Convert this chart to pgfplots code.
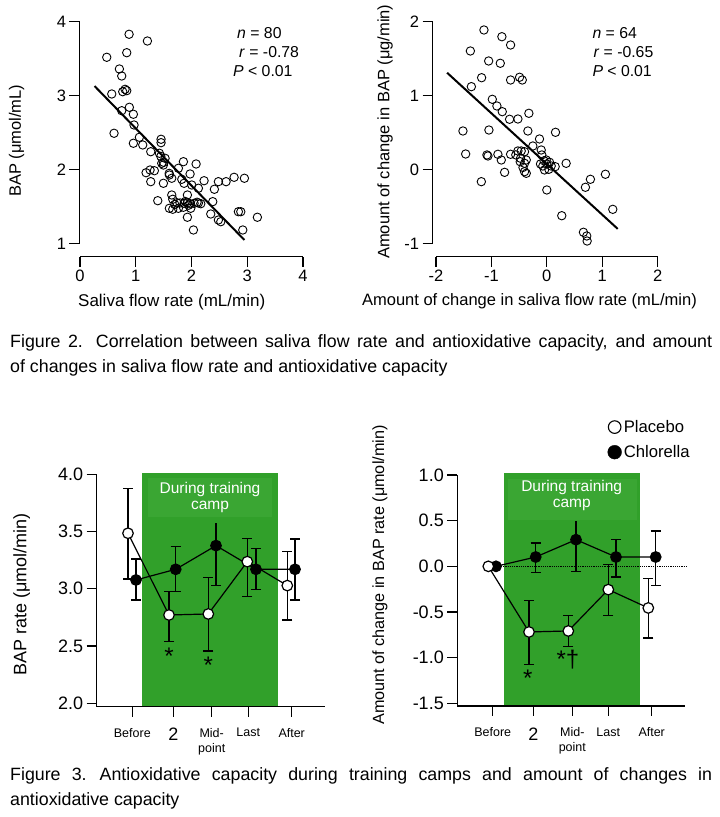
\documentclass[border=0pt]{standalone}
\usepackage{pgfplots}
\pgfplotsset{compat=1.18}
\usepackage{fontspec}
\setmainfont{Liberation Sans}
\definecolor{campgreen}{RGB}{49,160,42}
\definecolor{campgreenlt}{RGB}{58,166,51}
\newcommand{\fsz}[1]{\fontsize{#1pt}{#1pt}\selectfont}
\tikzset{axl/.style={line width=1.4pt}}
\pgfplotsset{
  common/.style={scale only axis, anchor=south west,
    axis x line*=bottom, axis y line*=left, axis line style={draw=none},
    tick align=outside, major tick length=10pt,
    tick style={black, line width=1.3pt}, clip=false,
    /pgf/number format/assume math mode=true,
    ticklabel style={font=\fsz{16.5}}},
  scat/.style={only marks, mark=o, mark size=4.2pt, mark options={line width=0.9pt}},
  regline/.style={no marks, line width=2pt},
  ebars/.style={error bars/y dir=both, error bars/y explicit,
    error bars/error bar style={line width=1.4pt},
    error bars/error mark options={rotate=90, mark size=5pt, line width=1.4pt}},
  placebo/.style={black, line width=1.2pt, mark=*, mark size=5.3pt,
    mark options={fill=white, line width=1.2pt}, ebars},
  chlor/.style={black, line width=1.2pt, mark=*, mark size=5.3pt,
    mark options={fill=black}, ebars},
}
\begin{document}
\begin{tikzpicture}
\useasboundingbox (0,0) rectangle (720pt,817pt);

% ---------------- Panel A ----------------
\begin{axis}[common, at={(79.5pt,560.3pt)}, width=223.4pt, height=235pt,
  xmin=-0.01, xmax=4, ymin=0.824, ymax=4, xtick={0,1,2,3,4}, ytick={1,2,3,4}]
\addplot[scat] table {
x y
0.479 3.519
0.880 3.830
1.209 3.739
0.838 3.581
0.706 3.361
0.748 3.266
0.808 3.086
0.838 3.068
0.766 3.054
0.569 3.023
0.885 2.843
0.748 2.797
0.957 2.749
0.610 2.492
0.969 2.604
1.065 2.438
1.454 2.411
1.454 2.365
0.957 2.357
1.125 2.334
1.269 2.243
1.424 2.222
1.526 2.154
1.466 2.086
1.496 2.063
1.185 1.959
1.257 1.996
1.334 1.986
1.269 1.838
1.496 1.816
1.603 1.928
1.646 1.884
1.765 2.019
1.855 2.108
2.083 2.077
1.975 1.942
1.826 1.870
1.867 1.816
2.005 1.793
2.124 1.749
2.226 1.851
2.411 1.735
2.483 1.838
2.621 1.838
2.765 1.897
2.950 1.884
1.395 1.581
1.646 1.658
1.664 1.600
1.736 1.554
1.795 1.550
1.867 1.545
1.927 1.550
1.975 1.540
2.047 1.545
2.124 1.550
2.167 1.540
1.927 1.658
1.603 1.478
1.664 1.465
1.765 1.478
1.855 1.492
1.987 1.478
2.382 1.568
2.346 1.401
1.927 1.357
2.483 1.320
2.526 1.297
2.842 1.432
2.885 1.432
2.035 1.185
2.921 1.185
3.183 1.357
1.890 1.570
1.950 1.520
2.100 1.560
1.700 1.530
1.500 2.100
1.450 2.180
1.600 1.950
};
\addplot[regline] coordinates {(0.26,3.13) (2.95,1.05)};
\draw[axl] (axis cs:-0.01,1) -- (axis cs:-0.01,4);
\draw[axl] (axis cs:0,0.824) -- (axis cs:4,0.824);
\end{axis}

% ---------------- Panel B ----------------
\begin{axis}[common, at={(432.7pt,560.3pt)}, width=224.9pt, height=235pt,
  xmin=-2.06, xmax=2, ymin=-1.176, ymax=2, xtick={-2,-1,0,1,2}, ytick={-1,0,1,2}]
\addplot[scat] table {
x y
-1.135 1.888
-0.811 1.797
-0.654 1.685
-1.380 1.604
-1.050 1.469
-0.840 1.438
-1.177 1.243
-0.654 1.212
-0.492 1.249
-0.443 1.212
-1.362 1.122
-0.984 0.951
-0.901 0.861
-0.804 0.784
-0.672 0.681
-0.522 0.685
-0.324 0.762
-1.514 0.523
-1.045 0.536
-0.342 0.523
0.157 0.505
-0.132 0.415
-0.252 0.320
-1.465 0.212
-1.081 0.199
-1.063 0.185
-0.883 0.208
-0.822 0.131
-0.654 0.208
-0.522 0.253
-0.462 0.253
-0.402 0.243
-0.474 0.154
-0.480 0.108
-0.402 0.086
-0.371 0.131
-0.402 -0.027
-0.371 -0.049
-0.101 0.266
-0.090 0.199
-0.114 0.077
-0.072 0.050
-0.011 0.131
0.000 0.077
-0.041 -0.004
0.036 0.005
0.079 0.050
0.151 0.041
0.349 0.086
-0.762 -0.036
-1.182 -0.162
0.000 -0.274
0.270 -0.622
0.697 -0.238
0.787 -0.130
1.058 -0.062
0.661 -0.846
0.721 -0.896
0.728 -0.964
1.191 -0.536
-0.050 0.120
-0.430 0.030
-0.560 0.200
0.050 0.100
};
\addplot[regline] coordinates {(-1.80,1.31) (1.28,-0.80)};
\draw[axl] (axis cs:-2.06,-1) -- (axis cs:-2.06,2);
\draw[axl] (axis cs:-2,-1.176) -- (axis cs:2,-1.176);
\end{axis}

% ---------------- Panel C ----------------
\begin{axis}[common, at={(96.7pt,110.3pt)}, width=228.3pt, height=234.7pt,
  xmin=96.7, xmax=325, ymin=1.97, ymax=4.02,
  ytick={2,2.5,3,3.5,4}, ticklabel style={font=\fsz{18}},
  yticklabel style={/pgf/number format/.cd, fixed, fixed zerofill, precision=1},
  xtick={132.3,173.3,211.7,248.3,291.7},
  xticklabels={Before,{\fsz{18}2},Mid-\\point,Last,After},
  xticklabel style={font=\fontsize{12.5pt}{15pt}\selectfont, align=center, anchor=north, yshift=-8pt}]
\addplot[fill=campgreen, draw=none] coordinates {(142.3,1.97) (142.3,4.014) (278.3,4.014) (278.3,1.97)};
\addplot[fill=campgreenlt, draw=none] coordinates {(148.3,3.631) (148.3,3.966) (271.7,3.966) (271.7,3.631)};
\addplot[black, line width=1.4pt, forget plot] coordinates {(216,3.377) (216,3.572)};
\addplot[chlor] table[y error plus=ep, y error minus=em] {
x y ep em
136 3.077 0.184 0.175
175.7 3.170 0.198 0.195
216 3.377 0 0.349
256 3.170 0.184 0.174
295 3.170 0.265 0.268
};
\addplot[placebo] table[y error plus=ep, y error minus=em] {
x y ep em
128 3.485 0.393 0.399
169 2.771 0.207 0.232
208.3 2.780 0.320 0.323
247.3 3.237 0.204 0.305
287.3 3.028 0.297 0.300
};
\draw[axl] (axis cs:96.7,4) -- (axis cs:96.7,1.97) -- (axis cs:325,1.97);
\end{axis}

% ---------------- Panel D ----------------
\begin{axis}[common, at={(457.3pt,111pt)}, width=227.7pt, height=233.7pt,
  xmin=457.3, xmax=685, ymin=-1.53, ymax=1.03,
  ytick={-1.5,-1,-0.5,0,0.5,1}, ticklabel style={font=\fsz{18}},
  yticklabel style={/pgf/number format/.cd, fixed, fixed zerofill, precision=1},
  xtick={492.7,533.3,572.3,608.3,651.7},
  xticklabels={Before,{\fsz{18}2},Mid-\\point,Last,After},
  xticklabel style={font=\fontsize{12.5pt}{15pt}\selectfont, align=center, anchor=north, yshift=-8pt},
  legend style={at={(axis description cs:0.659,1.232)}, anchor=north west,
    draw=none, fill=none, font=\fsz{16.7}, row sep=7.5pt, inner sep=0pt},
  legend cell align=left]
\addplot[fill=campgreen, draw=none, forget plot] coordinates {(504,-1.53) (504,1.022) (640,1.022) (640,-1.53)};
\addplot[fill=campgreenlt, draw=none, forget plot] coordinates {(508.3,0.51) (508.3,0.956) (636.7,0.956) (636.7,0.51)};
\addplot[black, densely dotted, line width=1.2pt, forget plot] coordinates {(490,0) (686.7,0)};
\addplot[black, line width=1.4pt, forget plot] coordinates {(576,0.292) (576,0.493)};
\addplot[chlor, forget plot] table[y error plus=ep, y error minus=em] {
x y ep em
496 0 0 0
535.7 0.102 0.153 0.171
576 0.292 0 0.347
616 0.102 0.194 0.219
655.7 0.102 0.285 0.310
};
\addplot[placebo, legend image code/.code={\draw[line width=1.1pt, fill=white] (0pt,0pt) circle (6.3pt);}] table[y error plus=ep, y error minus=em] {
x y ep em
488.3 0 0 0
529 -0.719 0.347 0.358
568.3 -0.708 0.172 0.168
608.3 -0.255 0.277 0.281
648.3 -0.456 0.321 0.329
};
\addlegendentry{Placebo}
\addplot[black, mark=*, only marks, legend image code/.code={\fill[black] (0pt,0pt) circle (6.9pt);}] coordinates {(496,0)};
\addlegendentry{Chlorella}
\draw[axl] (axis cs:457.3,1) -- (axis cs:457.3,-1.53) -- (axis cs:685,-1.53);
\end{axis}

% ---------------- text ----------------
\begin{scope}[every node/.style={inner sep=0pt}]
% panel A
\node[font=\fsz{17}] at (171.7pt,515.3pt) {Saliva flow rate (mL/min)};
\node[font=\fsz{16.5}, rotate=90] at (16.7pt,676.3pt) {BAP (μmol/mL)};
\node[font=\fsz{15.8}, anchor=west] at (237pt,784pt) {\textit{n} = 80};
\node[font=\fsz{15.8}, anchor=west] at (239pt,765pt) {\textit{r} = -0.78};
\node[font=\fsz{15.8}, anchor=west] at (233pt,746pt) {\textit{P} < 0.01};
% panel B
\node[font=\fsz{16.5}] at (529.5pt,515.3pt) {Amount of change in saliva flow rate (mL/min)};
\node[font=\fsz{16.5}, rotate=90] at (385pt,685.3pt) {Amount of change in BAP (μg/min)};
\node[font=\fsz{15.8}, anchor=west] at (592.3pt,783.7pt) {\textit{n} = 64};
\node[font=\fsz{15.8}, anchor=west] at (593.3pt,764.7pt) {\textit{r} = -0.65};
\node[font=\fsz{15.8}, anchor=west] at (592.3pt,746pt) {\textit{P} < 0.01};
% captions
\node[font=\fsz{17.8}, anchor=base west] at (10pt,469.3pt) {\hbox to 702pt{Figure 2.\hspace{13pt}Correlation between saliva flow rate and antioxidative capacity, and amount}};
\node[font=\fsz{17.8}, anchor=base west] at (10pt,444.3pt) {of changes in saliva flow rate and antioxidative capacity};
\node[font=\fsz{17.8}, anchor=base west] at (10pt,36.3pt) {\hbox to 702pt{Figure 3.\hspace{13pt}Antioxidative capacity during training camps and amount of changes in}};
\node[font=\fsz{17.8}, anchor=base west] at (10pt,12pt) {antioxidative capacity};
% panel C
\node[font=\fsz{18}, rotate=90] at (21.7pt,222.8pt) {BAP rate (μmol/min)};
\node[font=\fsz{15.5}, text=white] at (210pt,328pt) {During training};
\node[font=\fsz{15.5}, text=white] at (210pt,309.7pt) {camp};
\node[font=\fsz{24}] at (169pt,161pt) {*};
\node[font=\fsz{24}] at (208.3pt,152pt) {*};
% panel D
\node[font=\fsz{16.2}, rotate=90] at (380pt,242pt) {Amount of change in BAP rate (μmol/min)};
\node[font=\fsz{15.5}, text=white] at (571.7pt,329.7pt) {During training};
\node[font=\fsz{15.5}, text=white] at (571.7pt,312pt) {camp};
\node[font=\fsz{24}] at (527.7pt,139pt) {*};
\node[font=\fsz{24}, anchor=base] at (568pt,149pt) {*†};
\end{scope}
\end{tikzpicture}
\end{document}
